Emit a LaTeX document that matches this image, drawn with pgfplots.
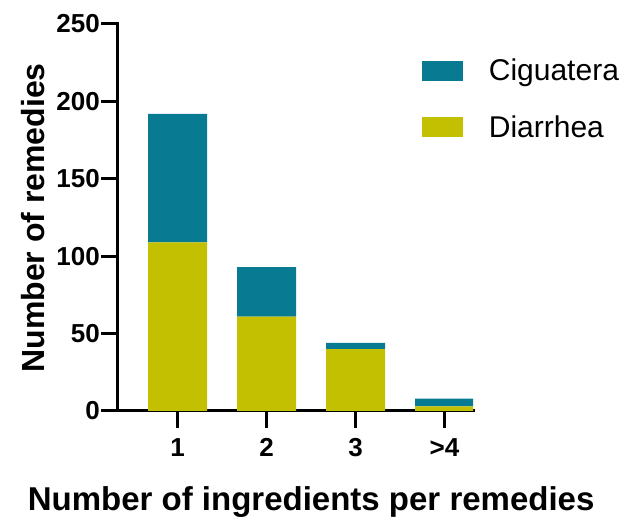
\documentclass[border=0pt]{standalone}
\usepackage{fontspec}
\setmainfont{Liberation Sans}
\usepackage{pgfplots}
\pgfplotsset{compat=1.18}
\definecolor{cig}{RGB}{8,123,146}
\definecolor{dia}{RGB}{194,192,0}
\begin{document}
\begin{tikzpicture}
\useasboundingbox (-118pt,-107pt) rectangle (506pt,411pt);
\begin{axis}[
  at={(0,0)}, anchor=south west,
  scale only axis, width=355pt, height=387pt,
  ybar stacked, bar width=59pt,
  xmin=0.33, xmax=4.32, ymin=0, ymax=250,
  xtick={1,2,3,4}, xticklabels={1,2,3,{>4}},
  ytick={0,50,100,150,200,250},
  axis x line*=bottom, axis y line*=left,
  axis line style={line width=3pt, line cap=rect},
  tick align=outside, major tick length=17pt,
  tick style={line width=3pt, black},
  /pgf/number format/assume math mode=true,
  ticklabel style={font=\bfseries\fontsize{26}{30}\selectfont},
  yticklabel style={inner xsep=1pt},
  xticklabel style={inner ysep=3pt, yshift=-7pt},
  xlabel={Number of ingredients per remedies},
  ylabel={Number of remedies},
  every axis x label/.style={at={(axis description cs:0.544,-0.235)}, anchor=center, font=\bfseries\fontsize{33}{38}\selectfont},
  every axis y label/.style={at={(axis description cs:-0.24,0.499)}, anchor=center, rotate=90, font=\bfseries\fontsize{32}{37}\selectfont},
  legend style={draw=none, fill=none, at={(axis description cs:0.847,0.92)}, anchor=north west,
    font=\fontsize{30}{35}\selectfont, row sep=29pt, column sep=24pt},
  legend cell align=left,
  legend image code/.code={\fill[#1] (0pt,-10pt) rectangle (41pt,10pt);},
  reverse legend,
]
\addplot[fill=dia, draw=none] coordinates {(1,109) (2,61) (3,40) (4,3)};
\addplot[fill=cig, draw=none] coordinates {(1,83) (2,32) (3,4) (4,5)};
\legend{Diarrhea, Ciguatera}
\end{axis}
\end{tikzpicture}
\end{document}
